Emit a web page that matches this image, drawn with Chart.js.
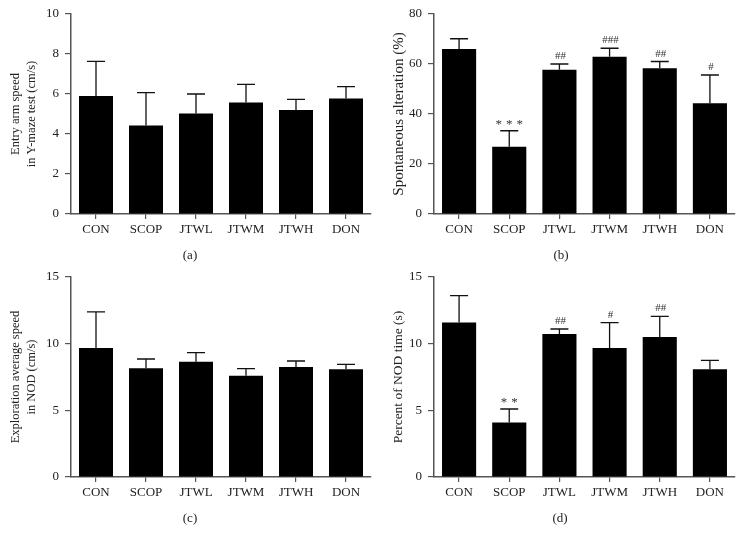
<!DOCTYPE html>
<html>
<head>
<meta charset="utf-8">
<script src="https://cdn.jsdelivr.net/npm/chart.js@4.4.0/dist/chart.umd.min.js"></script>
<style>
  body { margin: 0; background: #fff; }
  #painel { position: relative; width: 744px; height: 544px; overflow: hidden; }
  #painel canvas { position: absolute; }
</style>
</head>
<body>
<div id="painel">
  <canvas id="graficoA" width="372" height="272" style="left:0;top:0"></canvas>
  <canvas id="graficoB" width="372" height="272" style="left:372px;top:0"></canvas>
  <canvas id="graficoC" width="372" height="282" style="left:0;top:262px"></canvas>
  <canvas id="graficoD" width="372" height="282" style="left:372px;top:262px"></canvas>
</div>
<script>
// Grupos
const categorias = ['CON', 'SCOP', 'JTWL', 'JTWM', 'JTWH', 'DON'];

// (a) velocidade de entrada no Y-maze
const ticksA = [0, 2, 4, 6, 8, 10];
const mediasA = [5.9, 4.42, 5.03, 5.57, 5.2, 5.77];
const errosA = [7.63, 6.07, 6.0, 6.48, 5.73, 6.37];
const marcasA = ['', '', '', '', '', ''];

// (b) alternância espontânea
const ticksB = [0, 20, 40, 60, 80];
const mediasB = [66, 26.9, 57.7, 62.9, 58.3, 44.3];
const errosB = [70.1, 33.3, 60, 66.3, 61, 55.6];
const marcasB = ['', '***', '##', '###', '##', '#'];

// (c) velocidade média de exploração
const ticksC = [0, 5, 10, 15];
const mediasC = [9.68, 8.15, 8.65, 7.6, 8.25, 8.08];
const errosC = [12.38, 8.85, 9.33, 8.13, 8.7, 8.45];
const marcasC = ['', '', '', '', '', ''];

// (d) percentual do tempo NOD
const ticksD = [0, 5, 10, 15];
const mediasD = [11.58, 4.08, 10.73, 9.68, 10.5, 8.08];
const errosD = [13.6, 5.1, 11.1, 11.58, 12.05, 8.75];
const marcasD = ['', '**', '##', '#', '##', ''];

const fonte = 'Liberation Serif';
const corEixo = '#555';
const corTexto = '#222';

// Desenha a barra de erro (só para cima), as marcas e a letra do painel
const pluginErro = {
  id: 'barrasErro',
  afterDatasetsDraw(chart) {
    const ctx = chart.ctx;
    const ds = chart.data.datasets[0];
    const meta = chart.getDatasetMeta(0);
    const escalaY = chart.scales.y;
    ctx.save();
    ctx.strokeStyle = '#111';
    ctx.lineWidth = 1.3;
    ctx.fillStyle = '#333';
    ctx.textAlign = 'center';
    ctx.textBaseline = 'alphabetic';
    meta.data.forEach((barra, i) => {
      const topo = escalaY.getPixelForValue(ds.erros[i]);
      ctx.beginPath();
      ctx.moveTo(barra.x, barra.y);
      ctx.lineTo(barra.x, topo);
      ctx.moveTo(barra.x - 9, topo);
      ctx.lineTo(barra.x + 9, topo);
      ctx.stroke();
      const m = ds.marcas[i];
      if (m) {
        if (m.startsWith('*')) {
          ctx.font = '13px "' + fonte + '"';
          ctx.letterSpacing = '4px';
          ctx.fillText(m, barra.x + 2, topo - 3);
        } else {
          ctx.font = '11px "' + fonte + '"';
          ctx.letterSpacing = '0px';
          ctx.fillText(m, barra.x + 1, topo - 5);
        }
      }
    });
    ctx.restore();
  },
  afterDraw(chart, args, opts) {
    const ctx = chart.ctx;
    ctx.save();
    ctx.fillStyle = corTexto;
    ctx.font = '13px "' + fonte + '"';
    ctx.textAlign = 'center';
    ctx.textBaseline = 'middle';
    ctx.fillText(opts.letra, opts.x, opts.y);
    ctx.restore();
  }
};

function criarGrafico(id, medias, erros, marcas, ticks, tituloY, letra, geo) {
  const ctx = document.getElementById(id);
  new Chart(ctx, {
    type: 'bar',
    data: {
      labels: categorias,
      datasets: [{
        data: medias,
        erros: erros,
        marcas: marcas,
        backgroundColor: '#000',
        borderColor: '#000',
        borderWidth: 0,
        barPercentage: 0.68,
        categoryPercentage: 1
      }]
    },
    options: {
      responsive: false,
      animation: false,
      layout: { padding: { left: 0, right: geo.direita, top: geo.topo, bottom: 0 } },
      plugins: {
        legend: { display: false },
        tooltip: { enabled: false },
        barrasErro: { letra: letra, x: geo.letraX, y: geo.letraY }
      },
      scales: {
        x: {
          grid: { display: true, drawOnChartArea: false, drawTicks: true, tickLength: 5, offset: false, color: corEixo, lineWidth: 1.2 },
          border: { display: true, color: corEixo, width: 1.5 },
          ticks: { color: corTexto, font: { family: fonte, size: 13 }, padding: 3, maxRotation: 0, autoSkip: false },
          afterFit: s => { s.height = geo.xAltura; s.paddingLeft = 0; s.paddingRight = 0; }
        },
        y: {
          min: ticks[0],
          max: ticks[ticks.length - 1],
          afterBuildTicks: s => { s.ticks = ticks.map(v => ({ value: v })); },
          grid: { drawOnChartArea: false, drawTicks: true, tickLength: 6, color: corEixo, lineWidth: 1.2 },
          border: { display: true, color: corEixo, width: 1.5 },
          ticks: { color: corTexto, font: { family: fonte, size: 13 }, padding: 6 },
          title: {
            display: true,
            text: tituloY,
            color: corTexto,
            font: { family: fonte, size: geo.tituloTam, lineHeight: geo.tituloLinha },
            padding: { top: geo.tituloPad, bottom: 0 }
          },
          afterFit: s => { s.width = geo.yLargura; s.paddingTop = 0; s.paddingBottom = 0; }
        }
      }
    },
    plugins: [pluginErro]
  });
}

document.addEventListener('DOMContentLoaded', () => {
  criarGrafico('graficoA', mediasA, errosA, marcasA, ticksA,
    ['Entry arm speed', 'in Y-maze test (cm/s)'], '(a)',
    { yLargura: 71, direita: 1, topo: 14, xAltura: 58, tituloTam: 12.5, tituloLinha: 1.25, tituloPad: 8, letraX: 190, letraY: 256 });
  criarGrafico('graficoB', mediasB, errosB, marcasB, ticksB,
    'Spontaneous alteration (%)', '(b)',
    { yLargura: 62, direita: 9, topo: 14, xAltura: 58, tituloTam: 15, tituloLinha: 1.2, tituloPad: 18, letraX: 189, letraY: 256 });
  criarGrafico('graficoC', mediasC, errosC, marcasC, ticksC,
    ['Exploration average speed', 'in NOD (cm/s)'], '(c)',
    { yLargura: 71, direita: 1, topo: 15, xAltura: 67, tituloTam: 12.5, tituloLinha: 1.25, tituloPad: 8, letraX: 190, letraY: 257 });
  criarGrafico('graficoD', mediasD, errosD, marcasD, ticksD,
    'Percent of NOD time (s)', '(d)',
    { yLargura: 62, direita: 9, topo: 15, xAltura: 67, tituloTam: 13.5, tituloLinha: 1.2, tituloPad: 18.5, letraX: 188, letraY: 257 });
});
</script>
</body>
</html>
